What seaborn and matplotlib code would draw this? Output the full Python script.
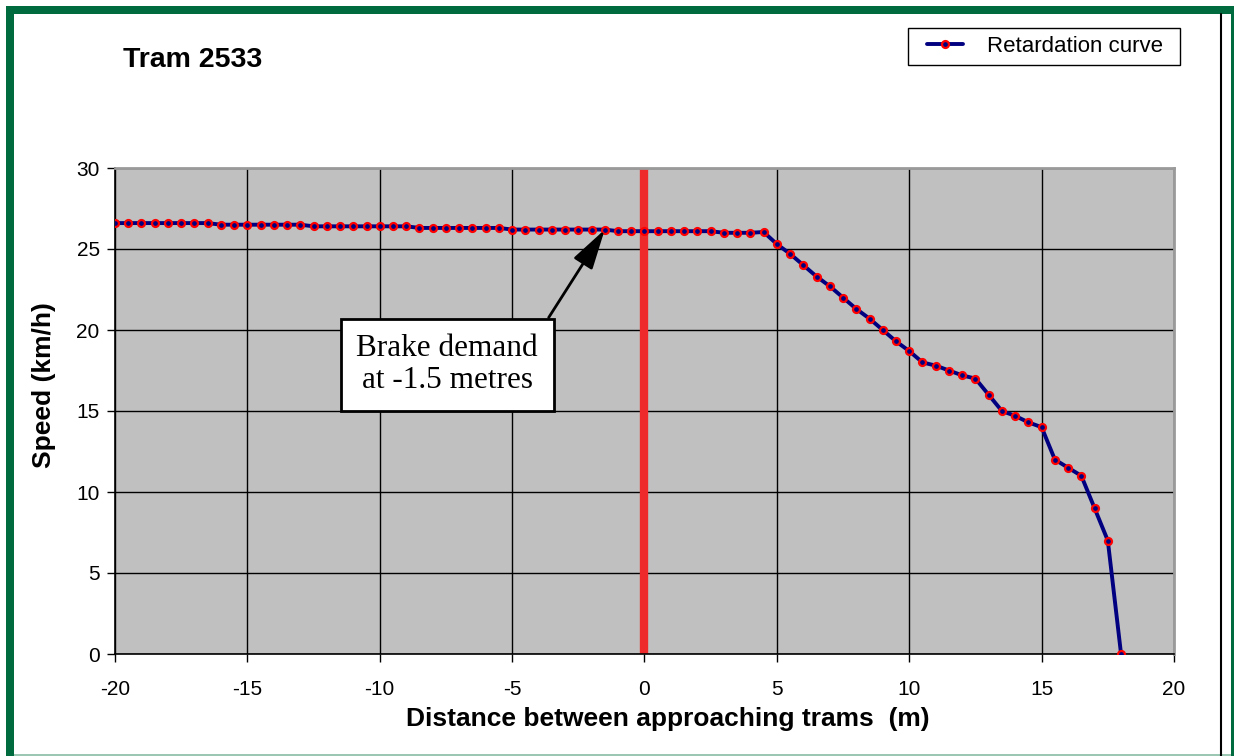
import matplotlib
matplotlib.use("Agg")
import matplotlib.pyplot as plt
import seaborn as sns
import pandas as pd
import numpy as np
from matplotlib.patches import Rectangle
from matplotlib.lines import Line2D

distance = [-20, -19.5, -19, -18.5, -18, -17.5, -17, -16.5,
            -16, -15.5, -15, -14.5, -14, -13.5, -13,
            -12.5, -12, -11.5, -11, -10.5, -10, -9.5, -9,
            -8.5, -8, -7.5, -7, -6.5, -6, -5.5,
            -5, -4.5, -4, -3.5, -3, -2.5, -2, -1.5,
            -1, -0.5, 0, 0.5, 1, 1.5, 2, 2.5,
            3, 3.5, 4, 4.5,
            5, 5.5, 6, 6.5, 7, 7.5, 8, 8.5, 9, 9.5, 10,
            10.5, 11, 11.5, 12, 12.5, 13, 13.5, 14, 14.5, 15,
            15.5, 16, 16.5, 17, 17.5, 18]
speed = [26.6, 26.6, 26.6, 26.6, 26.6, 26.6, 26.6, 26.6,
         26.5, 26.5, 26.5, 26.5, 26.5, 26.5, 26.5,
         26.4, 26.4, 26.4, 26.4, 26.4, 26.4, 26.4, 26.4,
         26.3, 26.3, 26.3, 26.3, 26.3, 26.3, 26.3,
         26.2, 26.2, 26.2, 26.2, 26.2, 26.2, 26.2, 26.2,
         26.1, 26.1, 26.1, 26.1, 26.1, 26.1, 26.1, 26.1,
         26.0, 26.0, 26.0, 26.05,
         25.3, 24.7, 24.0, 23.3, 22.7, 22.0, 21.3, 20.7, 20.0, 19.3, 18.7,
         18.0, 17.8, 17.5, 17.2, 17.0, 16.0, 15.0, 14.7, 14.3, 14.0,
         12.0, 11.5, 11.0, 9.0, 7.0, 0.0]

x_ticks = [-20, -15, -10, -5, 0, 5, 10, 15, 20]
y_ticks = [0, 5, 10, 15, 20, 25, 30]

df = pd.DataFrame({"Distance": distance, "Speed": speed})

sns.set_theme(style="white")
plt.rcParams["font.family"] = ["Liberation Sans", "DejaVu Sans"]
plt.rcParams["text.color"] = "black"
plt.rcParams["axes.labelcolor"] = "black"
plt.rcParams["xtick.color"] = "black"
plt.rcParams["ytick.color"] = "black"

fig = plt.figure(figsize=(12.34, 7.56), dpi=100)
fig.patch.set_facecolor("white")

# frame of the figure
green = "#006B3F"
fig.add_artist(Rectangle((6 / 1234, 1 - 14 / 756), 1228 / 1234, 8 / 756,
                         transform=fig.transFigure, color=green, lw=0))
fig.add_artist(Rectangle((6 / 1234, 0), 8 / 1234, 1 - 6 / 756,
                         transform=fig.transFigure, color=green, lw=0))
fig.add_artist(Rectangle((1231 / 1234, 0), 3 / 1234, 1 - 6 / 756,
                         transform=fig.transFigure, color=green, lw=0))
fig.add_artist(Line2D([1220.5 / 1234, 1220.5 / 1234], [0, 1 - 14 / 756],
                      transform=fig.transFigure, color="black", lw=1.5))
fig.add_artist(Rectangle((14 / 1234, 0), 1217 / 1234, 2.5 / 756,
                         transform=fig.transFigure, color="#9CC7B2", lw=0))

ax = fig.add_axes([115 / 1234, 1 - 654 / 756, (1174 - 115) / 1234, (654 - 168) / 756])
ax.set_facecolor("#C0C0C0")

ax.set_xlim(-20, 20)
ax.set_ylim(0, 30)
ax.set_xticks(x_ticks)
ax.set_yticks(y_ticks)
ax.set_xticklabels([str(t) for t in x_ticks], fontsize=15)
ax.set_yticklabels([str(t) for t in y_ticks], fontsize=15)
ax.grid(True, color="black", lw=1.0)
ax.set_axisbelow(True)
ax.tick_params(axis="x", direction="out", length=6, width=1, color="black",
               labelcolor="black", bottom=True, pad=13)
ax.tick_params(axis="y", direction="out", length=6, width=1, color="black",
               labelcolor="black", left=True, pad=5)
for s in ["left", "bottom"]:
    ax.spines[s].set_color("black")
    ax.spines[s].set_linewidth(1.2)
for s in ["top", "right"]:
    ax.spines[s].set_color("#9A9A9A")
    ax.spines[s].set_linewidth(2)

# red vertical line at 0
ax.axvline(0, color="#EE2A2A", lw=6, zorder=2)

sns.lineplot(data=df, x="Distance", y="Speed", ax=ax, color="#000080", lw=2.8,
             marker="o", markersize=5, markerfacecolor="#000080",
             markeredgecolor="red", markeredgewidth=1.6, zorder=3,
             label="Retardation curve", legend=False)

ax.set_xlabel("Distance between approaching trams  (m)", fontsize=19, fontweight="bold", color="black")
ax.set_ylabel("Speed (km/h)", fontsize=19, fontweight="bold", color="black")
ax.xaxis.set_label_coords(0.522, -0.109)
ax.yaxis.set_label_coords(-0.056, 0.553)

# annotation
ax.annotate("Brake demand\nat -1.5 metres", xy=(-1.5, 26.2), xytext=(-7.45, 17.85),
            fontsize=22.5, family=["Liberation Serif", "DejaVu Serif"], ha="center", va="center",
            linespacing=1.15, color="black",
            bbox=dict(boxstyle="square,pad=0.5", fc="white", ec="black", lw=2),
            arrowprops=dict(arrowstyle="-|>,head_length=1.1,head_width=0.3", color="black", lw=2,
                            shrinkA=0, shrinkB=0, relpos=(1.0, 1.0)),
            zorder=5)

fig.text(123 / 1234, 1 - 60 / 756, "Tram 2533", fontsize=20.5, fontweight="bold",
         va="center", ha="left", color="black")

# legend with hand-sized frame
fig.add_artist(Rectangle((908 / 1234, 1 - 65 / 756), 272 / 1234, 37 / 756,
                         transform=fig.transFigure, fc="white", ec="black", lw=1, zorder=4))
handle = Line2D([], [], color="#000080", lw=2.8, marker="o", markersize=5,
                markerfacecolor="#000080", markeredgecolor="red", markeredgewidth=1.6)
leg = fig.legend([handle], ["Retardation curve"], loc="center left",
                 bbox_to_anchor=(927 / 1234, 1 - 46.5 / 756), fontsize=16,
                 frameon=False, borderpad=0, borderaxespad=0,
                 handlelength=1.6, handletextpad=1.1, labelcolor="black")
leg.set_zorder(5)

fig.savefig("out.png", dpi=100, facecolor="white")
